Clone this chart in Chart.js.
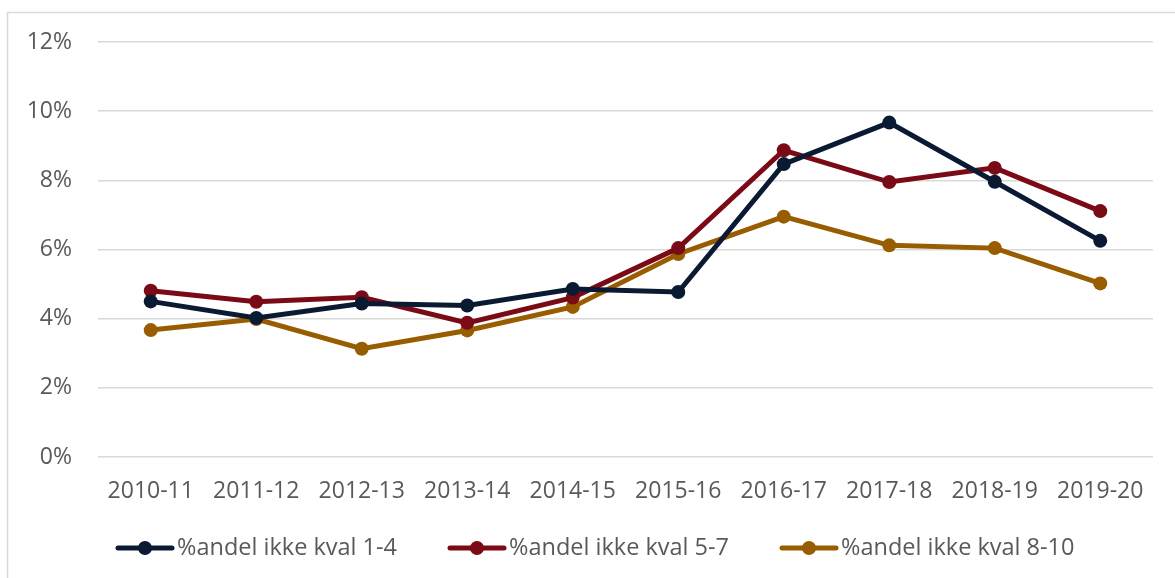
<!DOCTYPE html>
<html>
<head>
<meta charset="utf-8">
<script src="https://cdn.jsdelivr.net/npm/chart.js@4/dist/chart.umd.min.js"></script>
<style>
  html, body { margin: 0; padding: 0; background: #fff; }
  #wrap { width: 1175px; height: 578px; position: relative; }
</style>
</head>
<body>
<div id="wrap"><canvas id="chart" width="1175" height="578"></canvas></div>
<script>
// data
const categories = ['2010-11', '2011-12', '2012-13', '2013-14', '2014-15', '2015-16', '2016-17', '2017-18', '2018-19', '2019-20'];
const seriesNames = ['%andel ikke kval 1-4', '%andel ikke kval 5-7', '%andel ikke kval 8-10'];
const kval14 = [4.5, 4.02, 4.44, 4.38, 4.86, 4.77, 8.47, 9.67, 7.96, 6.25];
const kval57 = [4.81, 4.49, 4.62, 3.88, 4.61, 6.04, 8.87, 7.95, 8.36, 7.11];
const kval810 = [3.67, 3.99, 3.13, 3.66, 4.34, 5.87, 6.95, 6.12, 6.04, 5.02];
const yTicks = [0, 2, 4, 6, 8, 10, 12];

const colors = ['#0b1a33', '#7a0a16', '#975d00'];
const FONT = '"Open Sans", sans-serif';
const TEXT = '#595959';

function makeSet(label, data, color) {
    return {
        label: label,
        data: data,
        borderColor: color,
        backgroundColor: color,
        borderWidth: 5,
        pointRadius: 7,
        pointHoverRadius: 7,
        pointBorderWidth: 0,
        tension: 0
    };
}

// frame + legend at bottom, like the original office chart
const extras = {
    id: 'extras',
    beforeDraw(chart) {
        const ctx = chart.ctx;
        ctx.save();
        ctx.strokeStyle = '#d9d9d9';
        ctx.lineWidth = 1.5;
        ctx.strokeRect(7.5, 12.5, 1200, 600);
        ctx.restore();
    },
    afterDraw(chart) {
        const ctx = chart.ctx;
        const starts = [118, 450, 782];
        const y = 548;
        ctx.save();
        chart.data.datasets.forEach((ds, i) => {
            const x = starts[i];
            ctx.strokeStyle = ds.borderColor;
            ctx.lineWidth = 5;
            ctx.lineCap = 'round';
            ctx.beginPath();
            ctx.moveTo(x, y);
            ctx.lineTo(x + 54, y);
            ctx.stroke();
            ctx.fillStyle = ds.borderColor;
            ctx.beginPath();
            ctx.arc(x + 27, y, 7, 0, Math.PI * 2);
            ctx.fill();
            ctx.fillStyle = TEXT;
            ctx.font = '23.5px ' + FONT;
            ctx.textBaseline = 'middle';
            ctx.textAlign = 'left';
            ctx.fillText(ds.label, x + 59, y);
        });
        ctx.restore();
    }
};

new Chart(document.getElementById('chart').getContext('2d'), {
    type: 'line',
    data: {
        labels: categories,
        datasets: [
            makeSet(seriesNames[0], kval14, colors[0]),
            makeSet(seriesNames[1], kval57, colors[1]),
            makeSet(seriesNames[2], kval810, colors[2])
        ]
    },
    options: {
        responsive: false,
        animation: false,
        layout: { padding: { top: 42, right: 22, left: 0, bottom: 0 } },
        plugins: {
            legend: { display: false },
            tooltip: { enabled: false }
        },
        scales: {
            x: {
                offset: true,
                grid: { display: false, drawTicks: false },
                border: { display: false },
                ticks: { color: TEXT, font: { family: FONT, size: 23 }, padding: 21, maxRotation: 0, autoSkip: false },
                afterFit(scale) { scale.height = 121; }
            },
            y: {
                min: 0,
                max: 12,
                afterBuildTicks(scale) { scale.ticks = yTicks.map(v => ({ value: v })); },
                grid: { color: '#d9d9d9', lineWidth: 1.5, drawTicks: false },
                border: { display: false },
                ticks: {
                    color: TEXT,
                    font: { family: FONT, size: 23 },
                    padding: 26,
                    callback: v => v + '%'
                },
                afterFit(scale) { scale.width = 98; }
            }
        }
    },
    plugins: [extras]
});
</script>
</body>
</html>
